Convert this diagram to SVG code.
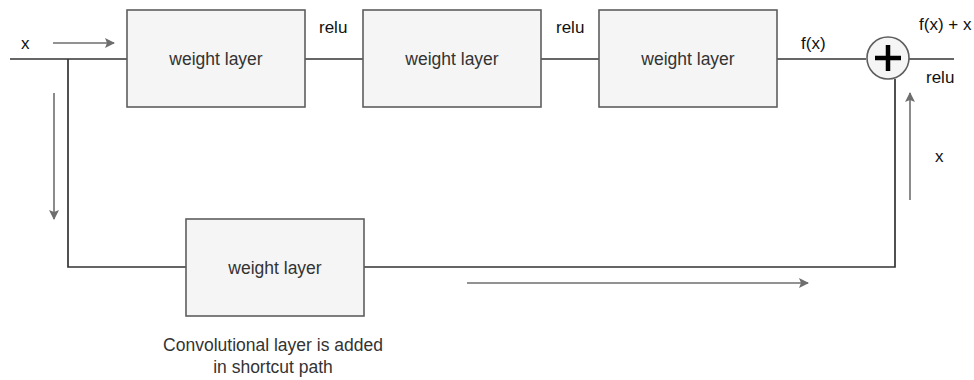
<svg xmlns="http://www.w3.org/2000/svg" width="974" height="380" viewBox="0 0 974 380">
  <style>
    .box { fill: #f5f5f5; stroke: #5e5e5e; stroke-width: 1.6; }
    .wire { fill: none; stroke: #333333; stroke-width: 1.7; }
    .flow { fill: none; stroke: #6e6e6e; stroke-width: 1.6; marker-end: url(#head); }
    .lbl { font-family: "Liberation Sans", Arial, sans-serif; font-size: 17.5px; fill: #333333; }
    .tag { font-family: "Liberation Sans", Arial, sans-serif; font-size: 17px; fill: #111111; }
  </style>
  <defs>
    <marker id="head" viewBox="0 0 10 10" refX="9" refY="5" markerWidth="11" markerHeight="10" markerUnits="userSpaceOnUse" orient="auto">
      <path d="M0,0 L10,5 L0,10 L2,5 Z" fill="#6e6e6e"/>
    </marker>
  </defs>
  <rect width="974" height="380" fill="#ffffff"/>

  <!-- connectors -->
  <g id="connectors">
    <path class="wire" d="M10,59 H127"/>
    <path class="wire" d="M305,59 H363"/>
    <path class="wire" d="M541,59 H599"/>
    <path class="wire" d="M777,59 H866"/>
    <path class="wire" d="M909,59 H954"/>
    <path class="wire" d="M68,59 V267 H186"/>
    <path class="wire" d="M364,267 H895 V79"/>
    <path class="flow" d="M53,43 H114"/>
    <path class="flow" d="M54,93 V219"/>
    <path class="flow" d="M467,283 H808"/>
    <path class="flow" d="M910,200 V93"/>
  </g>

  <g id="layer1">
    <rect class="box" x="127" y="10" width="178" height="97"/>
    <text class="lbl" x="216" y="65" text-anchor="middle">weight layer</text>
  </g>
  <g id="layer2">
    <rect class="box" x="363" y="10" width="178" height="97"/>
    <text class="lbl" x="452" y="65" text-anchor="middle">weight layer</text>
  </g>
  <g id="layer3">
    <rect class="box" x="599" y="10" width="178" height="97"/>
    <text class="lbl" x="688" y="65" text-anchor="middle">weight layer</text>
  </g>
  <g id="shortcut-layer">
    <rect class="box" x="186" y="219" width="178" height="97"/>
    <text class="lbl" x="275" y="274" text-anchor="middle">weight layer</text>
  </g>
  <g id="adder">
    <circle cx="888" cy="58" r="21" fill="#f5f5f5" stroke="#5e5e5e" stroke-width="1.6"/>
    <path d="M875,58 H901 M888,45 V71" stroke="#000000" stroke-width="4.5" fill="none"/>
  </g>

  <g id="labels">
    <text class="tag" x="21" y="49">x</text>
    <text class="tag" x="319" y="33">relu</text>
    <text class="tag" x="556" y="33">relu</text>
    <text class="tag" x="801" y="49">f(x)</text>
    <text class="tag" x="919" y="30">f(x) + x</text>
    <text class="tag" x="926" y="83">relu</text>
    <text class="tag" x="935" y="162">x</text>
    <text class="lbl" x="273" y="351" text-anchor="middle">Convolutional layer is added</text>
    <text class="lbl" x="273" y="373" text-anchor="middle">in shortcut path</text>
  </g>
</svg>
